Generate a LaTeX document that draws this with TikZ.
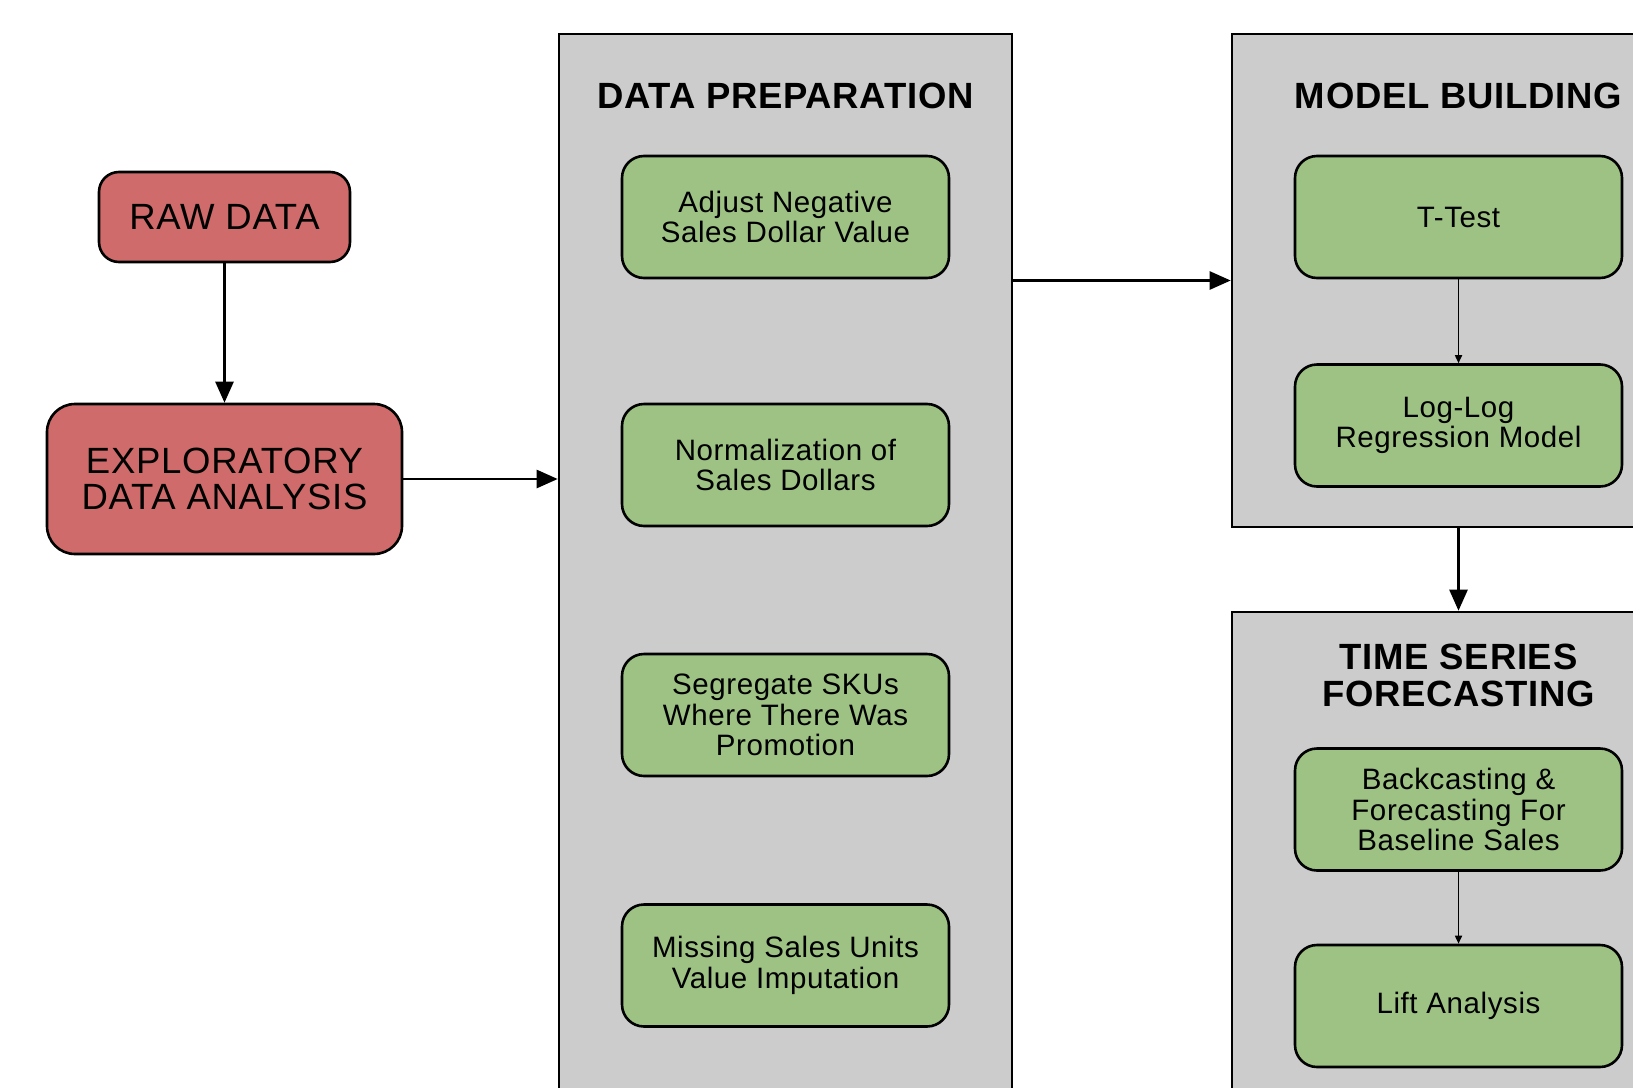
\documentclass[tikz,border=0pt]{standalone}
\usepackage{fontspec}
\setmainfont{Liberation Sans}[LetterSpace=2]
\usetikzlibrary{arrows.meta}
\definecolor{redfill}{RGB}{207,107,106}
\definecolor{greenfill}{RGB}{157,194,132}
\definecolor{panelgray}{RGB}{204,204,204}
\tikzset{
  redbox/.style={draw=black, line width=2.6pt, fill=redfill, rounded corners=20pt, align=center,
    font=\fontsize{36.5}{36.5}\selectfont, inner sep=0pt},
  greenbox/.style={draw=black, line width=2.6pt, fill=greenfill, rounded corners=22pt, align=center,
    minimum width=327pt, minimum height=122pt, inner sep=0pt,
    font=\fontsize{29.5}{30.5}\selectfont},
  panel/.style={draw=black, line width=2.6pt, fill=panelgray, inner sep=0pt},
  paneltitle/.style={font=\bfseries\fontsize{36.5}{36.5}\selectfont, align=center, inner sep=0pt},
  arr/.style={line width=2.6pt, -{Triangle[length=21pt,width=18pt]}},
  thinarr/.style={line width=1.6pt, -{Triangle[length=8pt,width=7pt]}}
}
\begin{document}
\begin{tikzpicture}[x=1pt,y=-1pt]
\useasboundingbox (0,0) rectangle (1633,1087);
\clip (0,0) rectangle (1633,1087);
% panels
\node[panel, minimum width=453pt, minimum height=1100pt] (prep) at (785.5,584) {};
\node[panel, minimum width=453pt, minimum height=493pt] (model) at (1458.5,280.5) {};
\node[panel, minimum width=453pt, minimum height=560pt] (ts) at (1458.5,892) {};
% titles
\node[paneltitle] (preptitle) at (785.5,96) {DATA PREPARATION};
\node[paneltitle] (modeltitle) at (1458.5,96) {MODEL BUILDING};
\node[paneltitle] (tstitle) at (1458.5,675.5) {TIME SERIES\\FORECASTING};
% red boxes
\node[redbox, minimum width=251pt, minimum height=90pt] (raw) at (224.5,217) {RAW DATA};
\node[redbox, minimum width=355pt, minimum height=150pt, rounded corners=28pt] (eda) at (224.5,479) {EXPLORATORY\\DATA ANALYSIS};
% green boxes
\node[greenbox] (adj) at (785.5,217) {Adjust Negative\\Sales Dollar Value};
\node[greenbox] (norm) at (785.5,465) {Normalization of\\Sales Dollars};
\node[greenbox] (seg) at (785.5,715) {Segregate SKUs\\Where There Was\\Promotion};
\node[greenbox] (miss) at (785.5,965.5) {Missing Sales Units\\Value Imputation};
\node[greenbox] (ttest) at (1458.5,217) {T-Test};
\node[greenbox] (loglog) at (1458.5,425.5) {Log-Log\\Regression Model};
\node[greenbox] (back) at (1458.5,809.5) {Backcasting \&\\Forecasting For\\Baseline Sales};
\node[greenbox] (lift) at (1458.5,1006) {Lift Analysis};
% connectors
\draw[arr] (raw.south) -- (eda.north);
\draw[arr] (eda.east) -- (eda.east -| prep.west);
\draw[arr] (prep.east |- model.west) -- (model.west);
\draw[arr] (model.south) -- (ts.north);
\draw[thinarr] (ttest.south) -- (loglog.north);
\draw[thinarr] (back.south) -- (lift.north);
\end{tikzpicture}
\end{document}
